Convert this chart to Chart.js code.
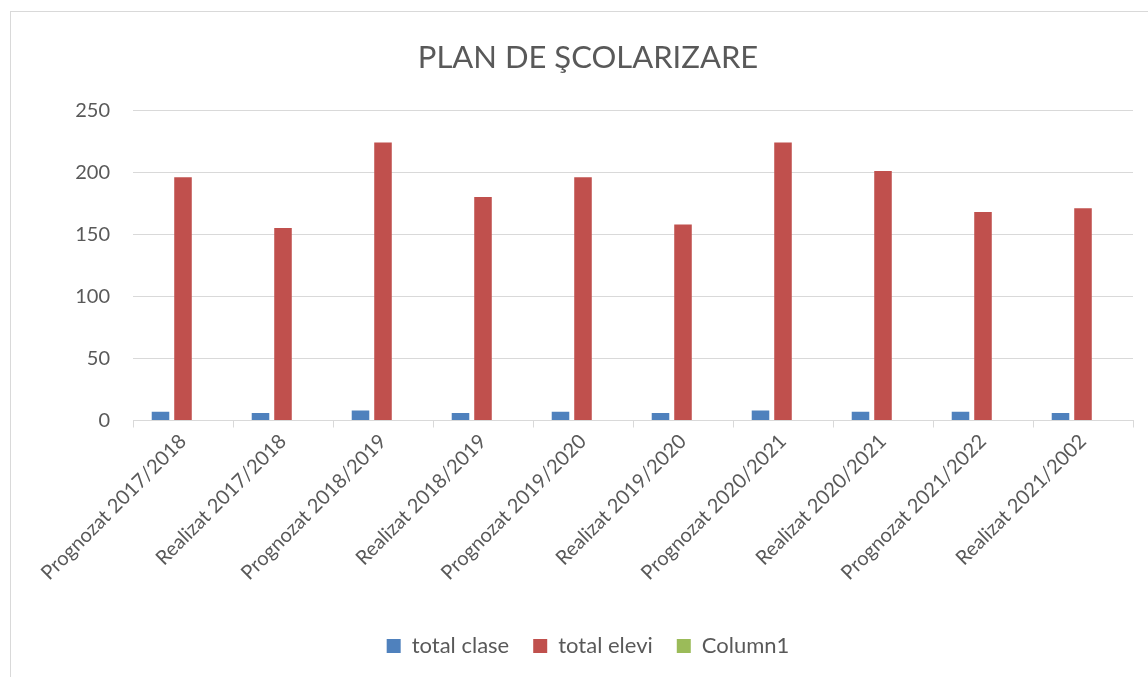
<!DOCTYPE html>
<html>
<head>
<meta charset="utf-8">
<script src="https://cdn.jsdelivr.net/npm/chart.js@4"></script>
<style>
  html, body { margin: 0; padding: 0; background: #fff; overflow: hidden; }
  #frame { position: absolute; left: 10px; top: 11px; width: 1200px; height: 720px; border: 1px solid #d9d9d9; box-sizing: border-box; }
  #wrap { position: absolute; left: 0; top: 0; width: 1176px; height: 690px; }
</style>
</head>
<body>
<div id="frame"></div>
<div id="wrap"><canvas id="c" width="1176" height="690"></canvas></div>
<script>
const categories = [
  "Prognozat 2017/2018", "Realizat 2017/2018",
  "Prognozat 2018/2019", "Realizat 2018/2019",
  "Prognozat 2019/2020", "Realizat 2019/2020",
  "Prognozat 2020/2021", "Realizat 2020/2021",
  "Prognozat 2021/2022", "Realizat 2021/2002"
];
const totalClase = [7, 6, 8, 6, 7, 6, 8, 7, 7, 6];
const totalElevi = [196, 155, 224, 180, 196, 158, 224, 201, 168, 171];
const column1 = [0, 0, 0, 0, 0, 0, 0, 0, 0, 0];
const yTicks = [0, 50, 100, 150, 200, 250];

const FONT = "Lato, 'Open Sans', sans-serif";
const TXT = "#595959";
const GRID = "#d9d9d9";

new Chart(document.getElementById('c'), {
  type: 'bar',
  data: {
    labels: categories,
    datasets: [
      { label: 'total clase', data: totalClase, backgroundColor: '#4f81bd' },
      { label: 'total elevi', data: totalElevi, backgroundColor: '#c0504d' },
      { label: 'Column1', data: column1, backgroundColor: '#9bbb59' }
    ]
  },
  options: {
    responsive: false,
    animation: false,
    layout: { padding: { left: 0, right: 0, top: 0, bottom: 23 } },
    datasets: { bar: { categoryPercentage: 0.675, barPercentage: 0.78, borderWidth: 0 } },
    plugins: {
      title: {
        display: true,
        text: 'PLAN DE ŞCOLARIZARE',
        color: TXT,
        font: { family: FONT, size: 31, weight: 'normal', lineHeight: 1.2 },
        padding: { top: 39, bottom: 34 }
      },
      legend: {
        position: 'bottom',
        labels: {
          color: TXT,
          font: { family: FONT, size: 22 },
          boxWidth: 14, boxHeight: 14,
          padding: 24
        }
      },
      tooltip: { enabled: false }
    },
    scales: {
      x: {
        grid: { display: true, drawOnChartArea: false, drawTicks: true, tickLength: 7, color: GRID, offset: true },
        border: { display: true, color: GRID, width: 1 },
        ticks: { color: TXT, font: { family: FONT, size: 20 }, minRotation: 45, maxRotation: 45, autoSkip: false, padding: 2 },
        afterFit: (s) => { s.height = 190.5; }
      },
      y: {
        min: 0, max: 250,
        afterBuildTicks: (s) => { s.ticks = yTicks.map(v => ({ value: v })); },
        grid: { color: GRID, drawTicks: false },
        border: { display: false },
        ticks: { color: TXT, font: { family: FONT, size: 20 }, padding: 23 },
        afterFit: (s) => { s.width = 133; }
      },
      yRight: {
        position: 'right',
        display: true,
        grid: { display: false, drawTicks: false },
        border: { display: false },
        ticks: { display: false },
        afterFit: (s) => { s.width = 43; }
      }
    }
  }
});
</script>
</body>
</html>
